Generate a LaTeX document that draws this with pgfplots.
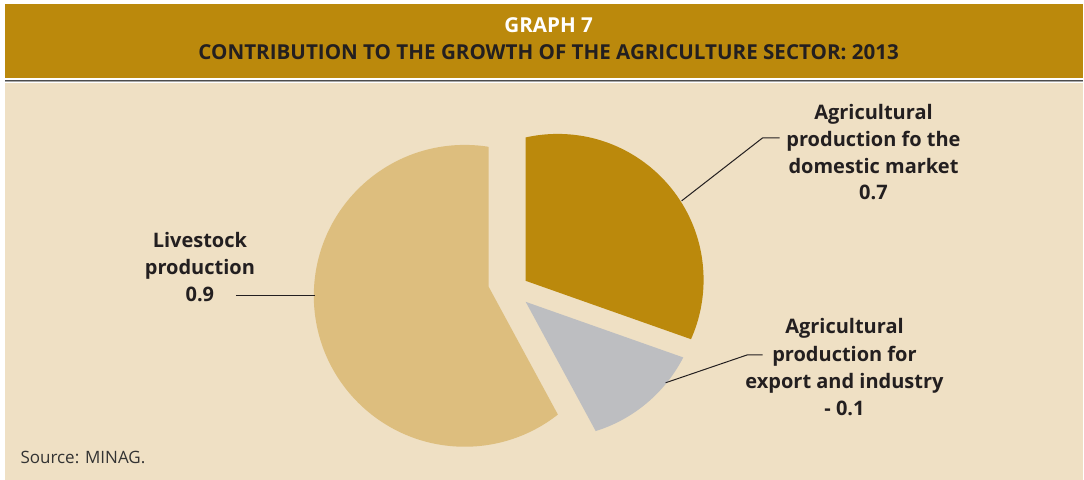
\documentclass[border=0pt]{standalone}
\usepackage{fontspec}
\setmainfont{Open Sans}
\usepackage{pgfplots}
\usepackage{pgfplotstable}
\pgfplotsset{compat=1.18}
\definecolor{gold}{RGB}{187,137,12}
\definecolor{bgtan}{RGB}{239,224,196}
\definecolor{pietan}{RGB}{221,190,126}
\definecolor{piegray}{RGB}{189,190,193}
\definecolor{txt}{RGB}{35,31,32}

% shares of the pie (percent of the circle)
\pgfplotstableread{
label share
domestic 30.4
export 11.7
livestock 57.9
}\slices
\pgfplotstablegetelem{0}{share}\of\slices\let\sA\pgfplotsretval
\pgfplotstablegetelem{1}{share}\of\slices\let\sB\pgfplotsretval
\pgfplotstablegetelem{2}{share}\of\slices\let\sC\pgfplotsretval
\pgfmathsetmacro\tA{90}
\pgfmathsetmacro\tB{\tA-3.6*\sA}
\pgfmathsetmacro\tC{\tB-3.6*\sB}
\pgfmathsetmacro\tD{\tC-3.6*\sC}

\begin{document}
\begin{tikzpicture}
\begin{axis}[width=1084pt,height=480pt,scale only axis,
  xmin=0,xmax=1084,ymin=0,ymax=480,hide axis,clip=false]
% background
\fill[white] (axis cs:0,0) rectangle (axis cs:1084,480);
\fill[bgtan] (axis cs:5,0) rectangle (axis cs:1084,397);
\fill[gold] (axis cs:5,402) rectangle (axis cs:1084,476);
\draw[black!70,line width=1.3pt] (axis cs:5,399.6) -- (axis cs:1084,399.6);
\draw[black!35,line width=0.8pt] (axis cs:5,398.4) -- (axis cs:1084,398.4);
% header
\node[anchor=base,text=white,font=\bfseries\fontsize{20.6}{24}\selectfont] at (axis cs:549,447) {GRAPH 7};
\node[anchor=base,text=txt,font=\bfseries\fontsize{20.6}{24}\selectfont] at (axis cs:549,420) {CONTRIBUTION TO THE GROWTH OF THE AGRICULTURE SECTOR: 2013};
% slices
\begin{scope}
\clip (axis cs:558,200) circle[radius=146pt];
\fill[gold] (axis cs:526,199) -- ++(\tA:400pt) arc[start angle=\tA,end angle=\tB,radius=400pt] -- cycle;
\end{scope}
\begin{scope}
\clip (axis cs:552,190) circle[radius=148pt];
\fill[piegray] (axis cs:526,178) -- ++(\tB:400pt) arc[start angle=\tB,end angle=\tC,radius=400pt] -- cycle;
\end{scope}
\begin{scope}
\clip (axis cs:465,184) circle[radius=151pt];
\fill[pietan] (axis cs:489,193) -- ++(\tC:400pt) arc[start angle=\tC,end angle=\tD,radius=400pt] -- cycle;
\end{scope}
% leaders
\draw[txt,line width=1pt] (axis cs:682,279) -- (axis cs:763,342) -- (axis cs:780,342);
\draw[txt,line width=1pt] (axis cs:666,97) -- (axis cs:748,125) -- (axis cs:763,125);
\draw[txt,line width=1pt] (axis cs:236,184) -- (axis cs:315,184);
% labels (base anchor = baseline of the last line)
\node[anchor=base,align=center,text=txt,font=\bfseries\fontsize{20}{26.7}\selectfont] at (axis cs:874,280) {Agricultural\\production fo the\\domestic market\\0.7};
\node[anchor=base,align=center,text=txt,font=\bfseries\fontsize{20}{27.3}\selectfont] at (axis cs:845,64) {Agricultural\\production for\\export and industry\\- 0.1};
\node[anchor=base,align=center,text=txt,font=\bfseries\fontsize{20}{27}\selectfont] at (axis cs:200,178) {Livestock\\production\\0.9};
\node[anchor=base west,text=black!80,font=\fontsize{17}{20}\selectfont] at (axis cs:17,16) {Source: MINAG.};
\end{axis}
\end{tikzpicture}
\end{document}
